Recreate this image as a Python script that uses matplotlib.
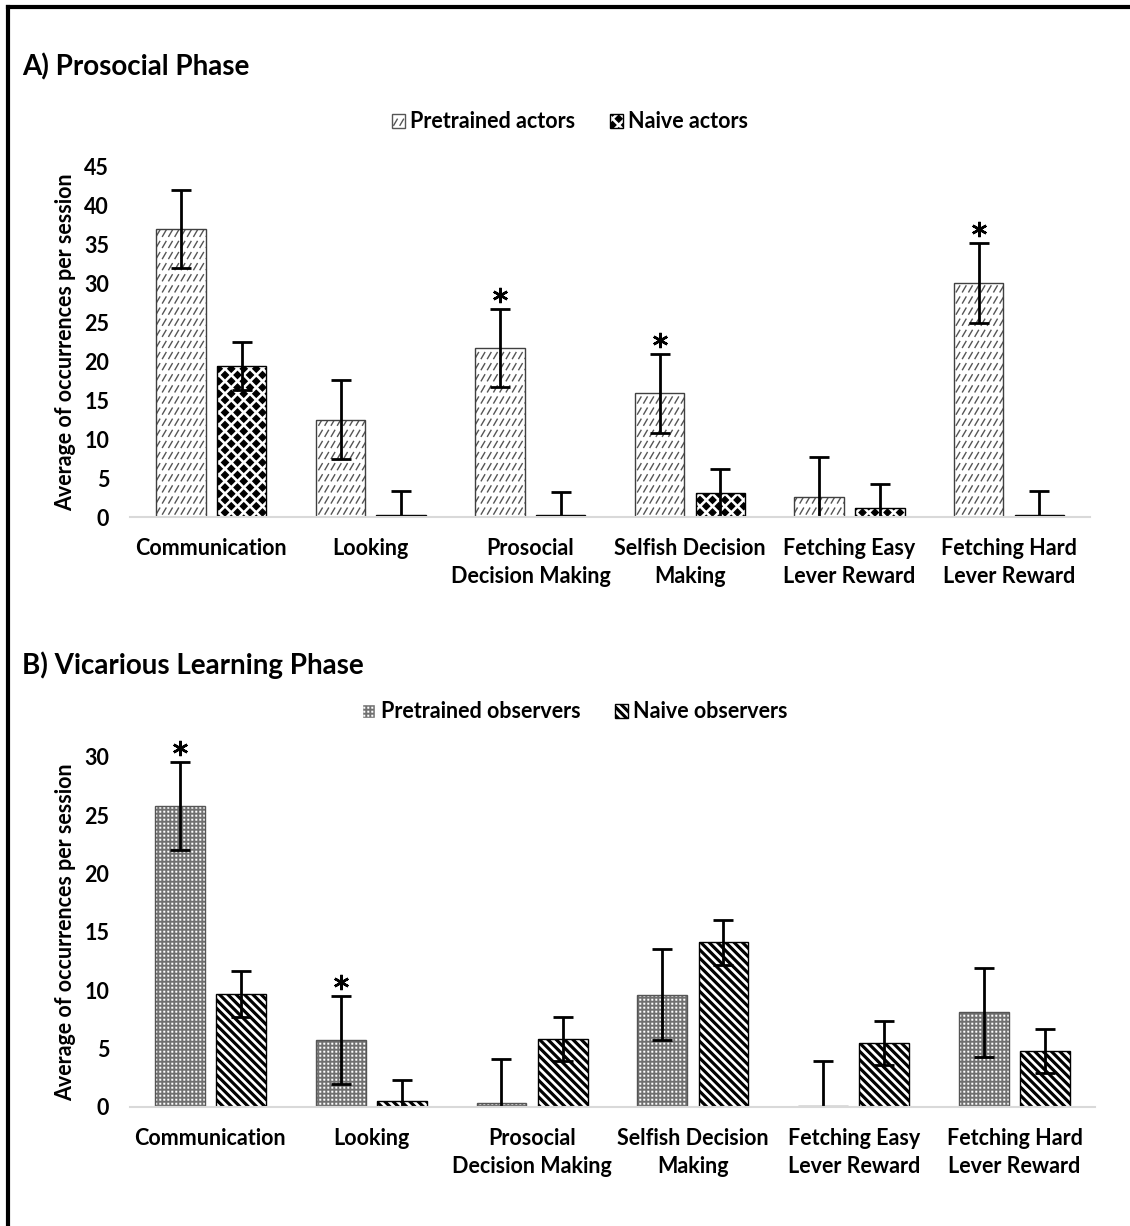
import numpy as np
import matplotlib
matplotlib.use('Agg')
import matplotlib.pyplot as plt
import matplotlib.hatch as mhatch
import matplotlib.transforms as mtransforms
from matplotlib.path import Path
from matplotlib.patches import Patch
from matplotlib.lines import Line2D

# ---- data ----
categories = ['Communication', 'Looking', 'Prosocial\nDecision Making',
              'Selfish Decision\nMaking', 'Fetching Easy\nLever Reward',
              'Fetching Hard\nLever Reward']

pre_actors = [37.0, 12.5, 21.7, 15.9, 2.6, 30.1]
pre_actors_err = [5.0, 5.1, 5.0, 5.1, 5.1, 5.1]
naive_actors = [19.4, 0.2, 0.2, 3.1, 1.1, 0.2]
naive_actors_err = [3.1, 3.2, 3.0, 3.1, 3.1, 3.1]
stars_actors = [2, 3, 5]

pre_obs = [25.8, 5.75, 0.3, 9.6, 0.1, 8.1]
pre_obs_err = [3.8, 3.8, 3.8, 3.9, 3.8, 3.85]
naive_obs = [9.7, 0.5, 5.8, 14.1, 5.5, 4.8]
naive_obs_err = [1.95, 1.8, 1.9, 1.9, 1.9, 1.9]
stars_obs = [0, 1]


# ---- custom hatch patterns (unit cell = 1 inch) ----
def dash_rows(rows=9, per_row=16):
    v, c = [], []
    for r in range(rows + 1):
        y0 = r / rows - 0.03
        for k in range(-1, per_row + 1):
            x0 = k / per_row
            v += [(x0, y0), (x0 + 0.035, y0 + 0.06)]
            c += [Path.MOVETO, Path.LINETO]
    return v, c


def diamonds(n=8, h=0.034):
    v, c = [], []
    for r in range(2 * n + 1):
        y = r / (2 * n)
        xs = [j / n for j in range(n + 1)] if r % 2 == 0 else [(j + 0.5) / n for j in range(n)]
        for x in xs:
            v += [(x, y - h), (x + h, y), (x, y + h), (x - h, y), (x, y - h)]
            c += [Path.MOVETO, Path.LINETO, Path.LINETO, Path.LINETO, Path.CLOSEPOLY]
    return v, c


def stripes(n=12, w=0.025):
    v, c = [], []
    for k in range(-1, 2 * n + 2):
        a1 = k / n - w / 2
        a2 = k / n + w / 2
        v += [(-1, a1 + 1), (a1 + 1, -1), (a2 + 1, -1), (-1, a2 + 1), (-1, a1 + 1)]
        c += [Path.MOVETO, Path.LINETO, Path.LINETO, Path.LINETO, Path.CLOSEPOLY]
    return v, c


def dots(n=25, s=0.006):
    v, c = [], []
    for i in range(n + 1):
        for j in range(n + 1):
            x, y = i / n, j / n
            v += [(x, y), (x + s, y), (x + s, y + s), (x, y + s), (x, y)]
            c += [Path.MOVETO, Path.LINETO, Path.LINETO, Path.LINETO, Path.CLOSEPOLY]
    return v, c


PATTERNS = {'/': dash_rows(), 'O': diamonds(), '\\': stripes(), '.': dots()}


class CustomHatch(mhatch.HatchPatternBase):
    def __init__(self, hatch, density):
        v, c = PATTERNS.get(hatch, ([], []))
        self.v = np.array(v, dtype=float).reshape(-1, 2)
        self.c = np.array(c, dtype=Path.code_type)
        self.num_vertices = len(self.v)

    def set_vertices_and_codes(self, vertices, codes):
        vertices[:] = self.v
        codes[:] = self.c


mhatch._hatch_types[:] = [CustomHatch]

plt.rcParams['font.family'] = ['Lato', 'DejaVu Sans']
plt.rcParams['hatch.linewidth'] = 1.0

FS = 15.5

styles = {
    'pre_actors': dict(face='white', hcol='#555555', hatch='/', outline='#404040'),
    'naive_actors': dict(face='white', hcol='black', hatch='O', outline='black'),
    'pre_obs': dict(face='#707070', hcol='white', hatch='.', outline='#555555'),
    'naive_obs': dict(face='white', hcol='black', hatch='\\', outline='black'),
}

fig = plt.figure(figsize=(11.3, 12.26), dpi=100)

# outer frame (top and left edges)
fig.add_artist(Line2D([8 / 1130, 1], [1 - 7 / 1226] * 2, lw=3, color='black',
                      transform=fig.transFigure))
fig.add_artist(Line2D([8 / 1130] * 2, [1 - 7 / 1226, 0], lw=3, color='black',
                      transform=fig.transFigure))

off = 0.19
width = 0.31
x = np.arange(len(categories))


def draw_series(ax, xs, vals, errs, st):
    ax.bar(xs, vals, width, color=st['face'], edgecolor=st['hcol'], hatch=st['hatch'], linewidth=0)
    ax.bar(xs, vals, width, fill=False, edgecolor=st['outline'], linewidth=1.0)
    ax.errorbar(xs, vals, yerr=errs, fmt='none', ecolor='black', elinewidth=2, capsize=7, capthick=2)


def draw_panel(ax, pre, pre_err, naive, naive_err, stars, ymax, st_pre, st_naive, xlim):
    draw_series(ax, x - off, pre, pre_err, st_pre)
    draw_series(ax, x + off, naive, naive_err, st_naive)
    star_tr = mtransforms.offset_copy(ax.transData, fig=fig, y=10, units='points')
    tops = np.array(pre) + np.array(pre_err)
    ax.plot((x - off)[stars], tops[stars], linestyle='none', marker=(6, 2, 0),
            markersize=11, mew=1.8, color='black', transform=star_tr, clip_on=False)
    ax.set_ylim(0, ymax)
    ax.set_xlim(*xlim)
    ax.set_yticks(np.arange(0, ymax + 1, 5))
    ax.set_xticks(x)
    ax.set_xticklabels(categories, linespacing=1.45)
    for lab in ax.get_xticklabels() + ax.get_yticklabels():
        lab.set_fontweight('bold')
        lab.set_fontsize(FS)
    ax.tick_params(axis='x', length=0, pad=15)
    ax.tick_params(axis='y', length=0, pad=15)
    for s in ['top', 'right', 'left']:
        ax.spines[s].set_visible(False)
    ax.spines['bottom'].set_color('#d9d9d9')
    ax.spines['bottom'].set_linewidth(1.5)
    ax.set_ylabel('Average of occurrences per session', fontsize=FS, fontweight='bold')
    ax.yaxis.set_label_coords(-0.056, 0.5)


axA = fig.add_axes([0.115, 0.5783, 0.85, 0.2855])
draw_panel(axA, pre_actors, pre_actors_err, naive_actors, naive_actors_err, stars_actors,
           45, styles['pre_actors'], styles['naive_actors'], (-0.51, 5.51))

axB = fig.add_axes([0.115, 0.0971, 0.854, 0.2855])
draw_panel(axB, pre_obs, pre_obs_err, naive_obs, naive_obs_err, stars_obs,
           30, styles['pre_obs'], styles['naive_obs'], (-0.5, 5.5))

fig.text(22 / 1130, 1 - 67 / 1226, 'A) Prosocial Phase', fontsize=20, fontweight='bold', va='center')
fig.text(22 / 1130, 1 - 665 / 1226, 'B) Vicarious Learning Phase', fontsize=20, fontweight='bold', va='center')


def legend_handle(st):
    return Patch(facecolor=st['face'], edgecolor=st['hcol'], hatch=st['hatch'], linewidth=1)


leg_kw = dict(loc='center', ncol=2, frameon=False, handlelength=0.6, handleheight=0.6,
              handletextpad=0.25, columnspacing=1.6, prop=dict(weight='bold', size=FS))
fig.legend([legend_handle(styles['pre_actors']), legend_handle(styles['naive_actors'])],
           ['Pretrained actors', 'Naive actors'],
           bbox_to_anchor=(570 / 1130, 1 - 122 / 1226), **leg_kw)
fig.legend([legend_handle(styles['pre_obs']), legend_handle(styles['naive_obs'])],
           ['Pretrained observers', 'Naive observers'],
           bbox_to_anchor=(575 / 1130, 1 - 712 / 1226), **leg_kw)

fig.savefig('out.png', dpi=100)
